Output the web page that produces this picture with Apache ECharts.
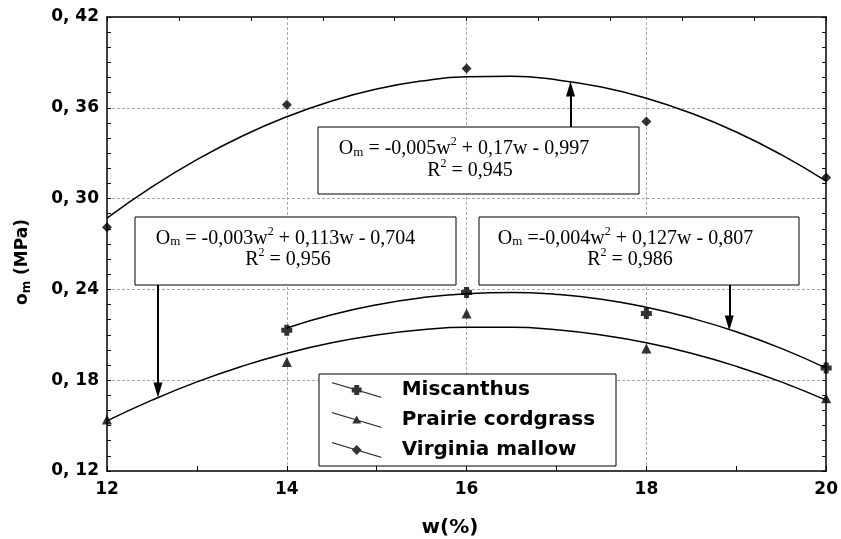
<!DOCTYPE html>
<html>
<head>
<meta charset="utf-8">
<title>om vs w</title>
<script src="https://cdn.jsdelivr.net/npm/echarts@6/dist/echarts.min.js"></script>
<style>
  html, body { margin: 0; padding: 0; background: #fff; }
  #chart { width: 841px; height: 539px; }
</style>
</head>
<body>
<div id="chart"></div>
<script>
// measured points (w, %)
var wValues = [12, 14, 16, 18, 20];
var miscanthus = [null, 0.213, 0.238, 0.224, 0.188];
var prairie = [0.154, 0.192, 0.224, 0.201, 0.168];
var virginia = [0.281, 0.362, 0.386, 0.351, 0.314];

// trend curves, every 0.5 %
var wFit = [12, 12.5, 13, 13.5, 14, 14.5, 15, 15.5, 16, 16.5, 17, 17.5, 18, 18.5, 19, 19.5, 20];
var miscanthusFit = [null, null, null, null, 0.2145, 0.2232, 0.2298, 0.2345, 0.2372, 0.2380, 0.2367, 0.2335, 0.2282, 0.2210, 0.2120, 0.2010, 0.1880];
var prairieFit = [0.1531, 0.1668, 0.1789, 0.1892, 0.1978, 0.2047, 0.2098, 0.2133, 0.2150, 0.2150, 0.2133, 0.2098, 0.2047, 0.1978, 0.1892, 0.1789, 0.1668];
var virginiaFit = [0.2871, 0.3077, 0.3257, 0.3412, 0.3541, 0.3645, 0.3724, 0.3777, 0.3805, 0.3808, 0.3785, 0.3737, 0.3663, 0.3564, 0.3440, 0.3290, 0.3115];

// arrows from the equation boxes: [w, from, to]
var arrowVirginia = [17.156, 0.3473, 0.3724];
var arrowPrairie = [12.567, 0.2429, 0.1735];
var arrowMiscanthus = [18.922, 0.2429, 0.2178];

var xTickLabels = ['12', '14', '16', '18', '20'];
var yTickLabels = ['0, 12', '0, 18', '0, 24', '0, 30', '0, 36', '0, 42'];

function pairs(xs, ys) {
    var out = [];
    for (var i = 0; i < xs.length; i++) {
        if (ys[i] != null) out.push([xs[i], ys[i]]);
    }
    return out;
}

function arrow(a) {
    return {
        silent: true,
        symbol: ['none', 'triangle'],
        symbolSize: [9, 15],
        lineStyle: { color: '#000', width: 2, type: 'solid' },
        label: { show: false },
        emphasis: { disabled: true },
        data: [[{ coord: [a[0], a[1]] }, { coord: [a[0], a[2]] }]]
    };
}

var sansBold = { fontFamily: 'DejaVu Sans', fontWeight: 'bold', color: '#000' };
var plusPath = 'path://M3,0H8V3H11V8H8V11H3V8H0V3H3Z';

// legend icons: slanted line with marker
var iconLine = 'M0,0L50,15L50,16.2L0,1.2Z';
var iconPlus = 'path://' + iconLine + 'M22.5,3.1H27.5V5.6H30V10.6H27.5V13.1H22.5V10.6H20V5.6H22.5Z';
var iconTri = 'path://' + iconLine + 'M25,3.6L29.5,11.6L20.5,11.6Z';
var iconDia = 'path://' + iconLine + 'M25,3.1L30,8.1L25,13.1L20,8.1Z';

var eqRich = {
    t: { fontFamily: 'Liberation Serif', fontSize: 20, lineHeight: 28, fill: '#000' },
    sub: { fontFamily: 'Liberation Serif', fontSize: 13, lineHeight: 13, verticalAlign: 'top', padding: [11, 0, 0, 0], fill: '#000' },
    sup: { fontFamily: 'Liberation Serif', fontSize: 12, lineHeight: 12, verticalAlign: 'top', padding: [1, 0, 0, 0], fill: '#000' }
};

function eqText(x, y, txt) {
    return {
        type: 'text', z: 10, silent: true,
        style: { x: x, y: y, text: txt, rich: eqRich, align: 'center', verticalAlign: 'top' }
    };
}

function box(x, y, w, h) {
    return {
        type: 'rect', z: 1, silent: true,
        shape: { x: x, y: y, width: w, height: h },
        style: { fill: '#fff', stroke: '#000', lineWidth: 1 }
    };
}

var myChart = echarts.init(document.getElementById('chart'));

var option = {
    animation: false,
    backgroundColor: '#fff',
    grid: { left: 107, right: 14, top: 17, bottom: 68 },
    xAxis: [{
        type: 'value', min: 12, max: 20, interval: 2, position: 'bottom',
        axisLine: { show: true, lineStyle: { color: '#000', width: 1.5 } },
        axisTick: { show: true, inside: true, length: 5, lineStyle: { color: '#000' } },
        minorTick: { show: true, splitNumber: 2, length: 5, lineStyle: { color: '#000' } },
        splitLine: { show: true, showMinLine: false, showMaxLine: false, lineStyle: { color: '#aaa', type: [3, 2], width: 1 } },
        axisLabel: Object.assign({
            fontSize: 17, margin: 10,
            formatter: function (v) { return xTickLabels[Math.round((v - 12) / 2)]; }
        }, sansBold)
    }, {
        type: 'value', min: 12, max: 20, interval: 0.8, position: 'top',
        axisLine: { show: true, lineStyle: { color: '#000', width: 1.5 } },
        axisTick: { show: true, inside: true, length: 4, lineStyle: { color: '#000' } },
        axisLabel: { show: false },
        splitLine: { show: false }
    }],
    yAxis: [{
        type: 'value', min: 0.12, max: 0.42, interval: 0.06, position: 'left',
        axisLine: { show: true, lineStyle: { color: '#000', width: 1.5 } },
        axisTick: { show: true, inside: true, length: 4, lineStyle: { color: '#000' } },
        minorTick: { show: true, splitNumber: 6, length: 4, lineStyle: { color: '#000' } },
        splitLine: { show: true, showMinLine: false, showMaxLine: false, lineStyle: { color: '#aaa', type: [3, 2], width: 1 } },
        axisLabel: Object.assign({
            fontSize: 17, margin: 8,
            formatter: function (v) { return yTickLabels[Math.round((v - 0.12) / 0.06)]; }
        }, sansBold)
    }, {
        type: 'value', min: 0.12, max: 0.42, interval: 0.01, position: 'right',
        axisLine: { show: true, lineStyle: { color: '#000', width: 1.5 } },
        axisTick: { show: true, inside: true, length: 4, lineStyle: { color: '#000' } },
        axisLabel: { show: false },
        splitLine: { show: false }
    }],
    legend: {
        orient: 'vertical', left: 332, top: 380, padding: 0,
        itemWidth: 50, itemHeight: 16, itemGap: 10,
        selectedMode: false,
        textStyle: { fontFamily: 'DejaVu Sans', fontWeight: 'bold', fontSize: 20, lineHeight: 20, color: '#000', padding: [0, 0, 0, 15] },
        data: [
            { name: 'Miscanthus', icon: iconPlus },
            { name: 'Prairie cordgrass', icon: iconTri },
            { name: 'Virginia mallow', icon: iconDia }
        ]
    },
    graphic: [
        box(318, 127, 321, 67),
        eqText(464, 135, '{t|O}{sub|m}{t| = -0,005w}{sup|2}{t| + 0,17w - 0,997}'),
        eqText(470, 156.5, '{t|R}{sup|2}{t| = 0,945}'),
        box(135, 217, 321, 68),
        eqText(285.5, 224.5, '{t|O}{sub|m}{t| = -0,003w}{sup|2}{t| + 0,113w - 0,704}'),
        eqText(288, 246, '{t|R}{sup|2}{t| = 0,956}'),
        box(479, 217, 320, 68),
        eqText(625.5, 224.5, '{t|O}{sub|m}{t| =-0,004w}{sup|2}{t| + 0,127w - 0,807}'),
        eqText(630, 246, '{t|R}{sup|2}{t| = 0,986}'),
        box(319, 374, 297, 92),
        {
            type: 'text', silent: true, rotation: Math.PI / 2, x: 23, y: 262,
            style: {
                text: '{a|o}{s|m}{a| (MPa)}', align: 'center', verticalAlign: 'middle',
                rich: {
                    a: { fontFamily: 'DejaVu Sans', fontWeight: 'bold', fontSize: 17, lineHeight: 22, fill: '#000' },
                    s: { fontFamily: 'DejaVu Sans', fontWeight: 'bold', fontSize: 12, lineHeight: 12, verticalAlign: 'top', padding: [9, 0, 0, 0], fill: '#000' }
                }
            }
        },
        {
            type: 'text', silent: true, x: 450, y: 528,
            style: { text: 'w(%)', align: 'center', verticalAlign: 'middle', fontFamily: 'DejaVu Sans', fontWeight: 'bold', fontSize: 20, fill: '#000' }
        }
    ],
    series: [
        {
            name: 'Virginia mallow fit', type: 'line', smooth: true, showSymbol: false, silent: true,
            lineStyle: { color: '#000', width: 1.5 }, z: 3,
            data: pairs(wFit, virginiaFit), markLine: arrow(arrowVirginia)
        },
        {
            name: 'Miscanthus fit', type: 'line', smooth: true, showSymbol: false, silent: true,
            lineStyle: { color: '#000', width: 1.5 }, z: 3,
            data: pairs(wFit, miscanthusFit), markLine: arrow(arrowMiscanthus)
        },
        {
            name: 'Prairie cordgrass fit', type: 'line', smooth: true, showSymbol: false, silent: true,
            lineStyle: { color: '#000', width: 1.5 }, z: 3,
            data: pairs(wFit, prairieFit), markLine: arrow(arrowPrairie)
        },
        {
            name: 'Miscanthus', type: 'scatter', symbol: plusPath, symbolSize: 11,
            itemStyle: { color: '#000' }, z: 4, data: pairs(wValues, miscanthus)
        },
        {
            name: 'Prairie cordgrass', type: 'scatter', symbol: 'triangle', symbolSize: 10,
            itemStyle: { color: '#000' }, z: 4, data: pairs(wValues, prairie)
        },
        {
            name: 'Virginia mallow', type: 'scatter', symbol: 'diamond', symbolSize: 10,
            itemStyle: { color: '#000' }, z: 4, data: pairs(wValues, virginia)
        }
    ]
};

myChart.setOption(option);
</script>
</body>
</html>
